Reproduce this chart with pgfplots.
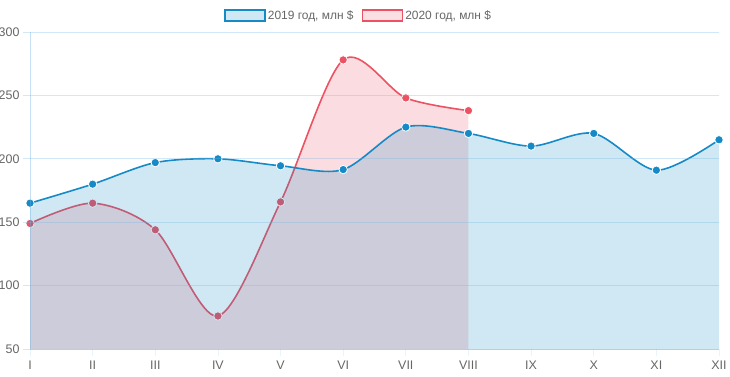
\documentclass[border=0pt]{standalone}
\usepackage{fontspec}
\setmainfont{Liberation Sans}
\usepackage{pgfplots}
\pgfplotsset{compat=1.18}
\definecolor{blueline}{RGB}{22,138,198}
\definecolor{redline}{RGB}{235,82,98}
\definecolor{gridc}{RGB}{110,180,225}
\definecolor{txt}{RGB}{102,102,102}
\begin{document}
\begin{tikzpicture}
\useasboundingbox (-30bp,-28bp) rectangle (700bp,349bp);
\begin{axis}[
  at={(0,0)}, anchor=south west,
  scale only axis, width=689bp, height=317bp,
  xmin=0, xmax=11, ymin=50, ymax=300,
  xtick={0,...,11},
  xticklabels={I,II,III,IV,V,VI,VII,VIII,IX,X,XI,XII},
  ytick={50,100,...,300},
  ymajorgrids,
  grid style={draw=gridc, draw opacity=0.3, line width=0.8bp},
  axis line style={draw=gridc, draw opacity=0.4, line width=0.8bp},
  axis x line*=bottom, axis y line*=left,
  tick align=outside, major tick length=7bp,
  tick style={draw=gridc, draw opacity=0.3, line width=0.8bp},
  xtick style={draw opacity=0.15},
  ticklabel style={font=\fontsize{12.5}{14}\selectfont, text=txt},
  yticklabel style={xshift=0bp},
  xticklabel style={yshift=-1bp},
  /pgf/number format/assume math mode=true,
  axis on top,
  clip mode=individual,
  legend columns=2,
  legend style={at={(0.477,1)}, anchor=south, yshift=7bp, draw=none, fill=none,
    font=\fontsize{12}{14}\selectfont, text=txt,
    /tikz/every even column/.append style={column sep=6bp}},
  legend image code/.code={\draw[#1] (0bp,-5.5bp) rectangle (40bp,5.5bp);},
]
\addlegendimage{draw=blueline, line width=1.6bp, fill=blueline!20}
\addlegendentry{2019 год, млн \$}
\addlegendimage{draw=redline, line width=1.6bp, fill=redline!18}
\addlegendentry{2020 год, млн \$}

% 2020 fill and line
\addplot[forget plot, draw=none, fill=redline, fill opacity=0.2, smooth, tension=0.5]
  coordinates {(0,149) (1,165) (2,144) (3,76) (4,166) (5,278) (6,248) (7,238)} \closedcycle;
\addplot[forget plot, draw=redline, line width=1.6bp, smooth, tension=0.5,
  mark=*, mark size=4.2bp, mark options={fill=redline, draw=white, line width=0.8bp}]
  coordinates {(0,149) (1,165) (2,144) (3,76) (4,166) (5,278) (6,248) (7,238)};

% 2019 fill and line
\addplot[forget plot, draw=none, fill=blueline, fill opacity=0.2, smooth, tension=0.5]
  coordinates {(0,165) (1,180) (2,197) (3,200) (4,194.5) (5,191.5) (6,225) (7,220) (8,210) (9,220) (10,191) (11,215)} \closedcycle;
\addplot[forget plot, draw=blueline, line width=1.6bp, smooth, tension=0.5,
  mark=*, mark size=4.2bp, mark options={fill=blueline, draw=white, line width=0.8bp}]
  coordinates {(0,165) (1,180) (2,197) (3,200) (4,194.5) (5,191.5) (6,225) (7,220) (8,210) (9,220) (10,191) (11,215)};
\end{axis}
\end{tikzpicture}
\end{document}
